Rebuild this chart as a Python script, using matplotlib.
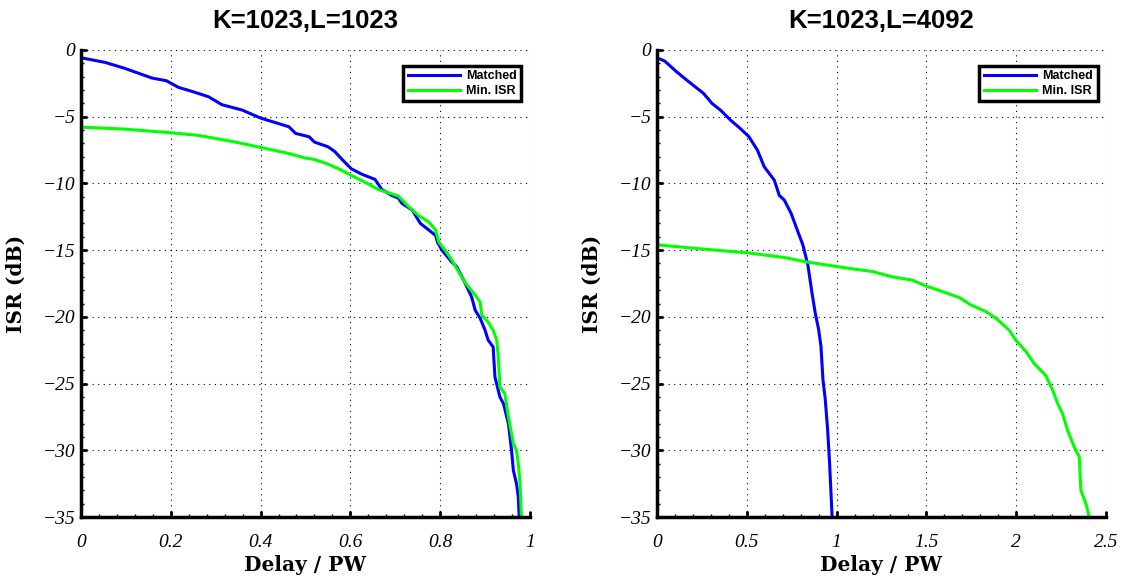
import matplotlib.pyplot as plt
from matplotlib.ticker import MultipleLocator
from matplotlib.font_manager import FontProperties

# K=1023, L=1023
left_matched_x = [0, 0.054, 0.098, 0.158, 0.19, 0.217, 0.247, 0.284, 0.314, 0.359, 0.4, 0.463, 0.478,
                  0.508, 0.52, 0.55, 0.565, 0.583, 0.602, 0.625, 0.655, 0.67, 0.692, 0.707, 0.715, 0.738,
                  0.756, 0.775, 0.79, 0.794, 0.804, 0.826, 0.837, 0.856, 0.87, 0.878, 0.889, 0.9, 0.907,
                  0.918, 0.922, 0.933, 0.941, 0.952, 0.959, 0.963, 0.97, 0.974, 0.976]
left_matched_y = [-0.58, -0.93, -1.38, -2.1, -2.3, -2.8, -3.1, -3.5, -4.1, -4.5, -5.1, -5.75, -6.25,
                  -6.5, -6.9, -7.25, -7.6, -8.25, -8.9, -9.3, -9.7, -10.45, -10.9, -11.1, -11.5, -12.0,
                  -13.0, -13.5, -13.9, -14.4, -15.0, -15.9, -16.25, -17.5, -18.5, -19.5, -20.1, -21.0, -21.75,
                  -22.25, -24.5, -26.0, -26.5, -28.0, -30.0, -31.5, -32.5, -33.5, -35.0]
left_min_x = [0, 0.098, 0.2, 0.262, 0.344, 0.4, 0.456, 0.5, 0.52, 0.55, 0.58, 0.602, 0.632, 0.662,
              0.707, 0.73, 0.752, 0.775, 0.79, 0.797, 0.811, 0.826, 0.852, 0.863, 0.881, 0.889, 0.893,
              0.907, 0.918, 0.926, 0.93, 0.933, 0.944, 0.952, 0.963, 0.97, 0.974, 0.978, 0.981]
left_min_y = [-5.78, -5.93, -6.2, -6.4, -6.9, -7.3, -7.7, -8.1, -8.2, -8.55, -9.0, -9.4, -9.9, -10.45,
              -10.95, -11.75, -12.4, -12.9, -13.5, -14.4, -15.0, -15.75, -17.25, -17.75, -18.5, -18.9, -19.9,
              -20.4, -21.0, -21.75, -23.25, -25.25, -25.75, -27.5, -29.5, -30.0, -31.0, -32.5, -35.0]

# K=1023, L=4092
right_matched_x = [0, 0.043, 0.109, 0.165, 0.212, 0.259, 0.306, 0.353, 0.409, 0.465, 0.512, 0.559,
                   0.597, 0.653, 0.681, 0.709, 0.747, 0.784, 0.812, 0.84, 0.863, 0.881, 0.9, 0.913,
                   0.924, 0.937, 0.95, 0.961, 0.974, 0.975]
right_matched_y = [-0.58, -0.83, -1.63, -2.25, -2.75, -3.25, -4.0, -4.5, -5.25, -5.9, -6.5, -7.5,
                   -8.75, -9.75, -10.9, -11.25, -12.25, -13.6, -14.6, -16.1, -18.2, -19.7, -20.95, -22.2,
                   -24.7, -26.2, -28.45, -30.95, -34.7, -35.0]
right_min_x = [0, 0.24, 0.503, 0.709, 0.84, 1.087, 1.199, 1.31, 1.422, 1.5, 1.589, 1.682, 1.747,
               1.831, 1.887, 1.961, 1.998, 2.054, 2.1, 2.165, 2.203, 2.231, 2.258, 2.286, 2.323,
               2.351, 2.36, 2.388, 2.407]
right_min_y = [-14.6, -14.9, -15.2, -15.55, -15.9, -16.4, -16.6, -17.0, -17.25, -17.7, -18.1, -18.55,
               -19.1, -19.6, -20.1, -21.0, -21.75, -22.6, -23.5, -24.4, -25.5, -26.5, -27.25, -28.5,
               -29.75, -30.5, -33.0, -34.0, -35.0]

titles = ['K=1023,L=1023', 'K=1023,L=4092']
xlims = [(0, 1), (0, 2.5)]
xsteps = [0.2, 0.5]

tick_font = FontProperties(family='Liberation Serif', style='italic', size=14)
label_font = FontProperties(family='DejaVu Serif', weight='bold', size=14.5)

fig = plt.figure(figsize=(11.24, 5.76), dpi=100)
ax1 = fig.add_axes([0.072, 0.1024, 0.3995, 0.8108])
ax2 = fig.add_axes([0.5845, 0.1024, 0.3995, 0.8108])

series = [(left_matched_x, left_matched_y, left_min_x, left_min_y),
          (right_matched_x, right_matched_y, right_min_x, right_min_y)]

for ax, (mx, my, nx, ny), title, xl, xs in zip([ax1, ax2], series, titles, xlims, xsteps):
    ax.plot(mx, my, color=(0, 0, 1), lw=2.2, label='Matched')
    ax.plot(nx, ny, color=(0, 1, 0), lw=2.2, label='Min. ISR')
    ax.set_xlim(*xl)
    ax.set_ylim(-35, 0)
    ax.xaxis.set_major_locator(MultipleLocator(xs))
    ax.yaxis.set_major_locator(MultipleLocator(5))
    ax.xaxis.set_minor_locator(MultipleLocator(xs / 5))
    ax.yaxis.set_minor_locator(MultipleLocator(1))
    ax.grid(True, which='major', color='black', linestyle=(0, (1, 4)), linewidth=0.8)
    ax.spines['top'].set_visible(False)
    ax.spines['right'].set_visible(False)
    ax.spines['left'].set_linewidth(2.5)
    ax.spines['bottom'].set_linewidth(2.5)
    ax.tick_params(which='major', direction='in', length=4, width=2)
    ax.tick_params(axis='x', which='major', pad=12)
    ax.tick_params(axis='y', which='major', pad=4)
    ax.tick_params(which='minor', direction='in', length=2, width=1)
    ax.set_xticks(ax.get_xticks())
    ax.set_xticklabels([f'{v:g}' for v in ax.get_xticks()])
    ax.set_yticks(ax.get_yticks())
    ax.set_yticklabels([f'{v:g}'.replace('-', '\u2212') for v in ax.get_yticks()])
    for lab in ax.get_xticklabels() + ax.get_yticklabels():
        lab.set_fontproperties(tick_font)
    ax.set_xlim(*xl)
    ax.set_ylim(-35, 0)
    ax.set_xlabel('Delay / PW', fontproperties=label_font, labelpad=3)
    ax.set_ylabel('ISR (dB)', fontproperties=label_font, labelpad=12)
    ax.set_title(title, fontfamily='Liberation Sans', fontweight='bold', fontsize=18.5, pad=16)
    leg = ax.legend(loc='upper right', bbox_to_anchor=(0.995, 0.98), fancybox=False, framealpha=1,
                    edgecolor='black', prop={'family': 'Liberation Sans', 'weight': 'bold', 'size': 9},
                    handlelength=4.2, borderpad=0.35, labelspacing=0.25, handletextpad=0.5)
    leg.get_frame().set_linewidth(2.5)

fig.savefig('out.png', dpi=100)
